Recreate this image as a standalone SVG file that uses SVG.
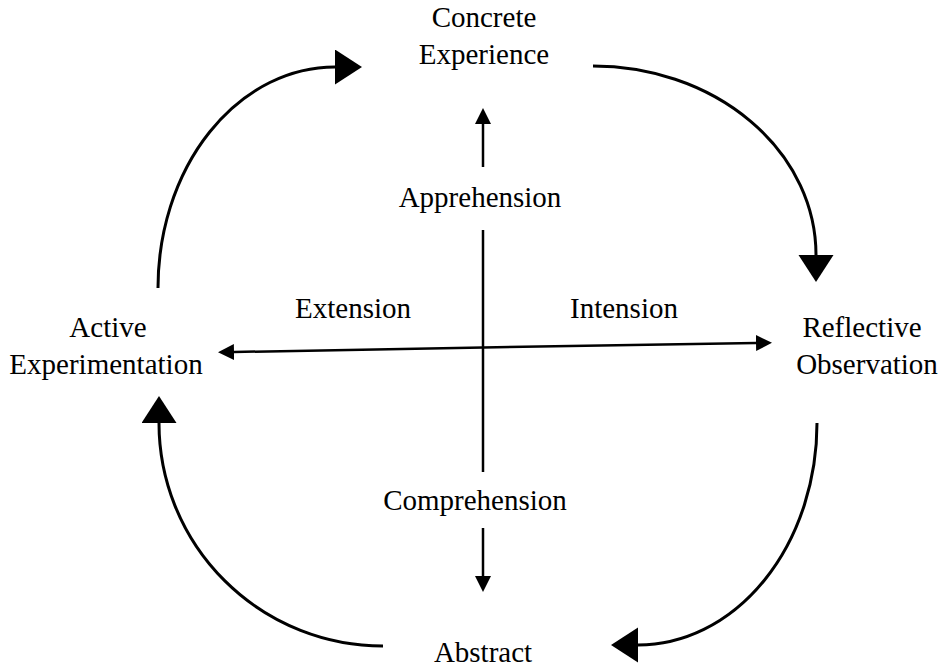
<svg xmlns="http://www.w3.org/2000/svg" width="941" height="670" viewBox="0 0 941 670">
<style>
text{font-family:"Liberation Serif","Times New Roman",serif;font-size:29px;fill:#000;text-anchor:middle}
.c{fill:none;stroke:#000;stroke-width:3}
.s{fill:none;stroke:#000;stroke-width:2.5}
</style>
<defs>
<marker id="big" markerUnits="userSpaceOnUse" markerWidth="30" markerHeight="38" refX="0" refY="17.5" orient="auto"><path d="M0,0 L27,17.5 L0,35 Z" fill="#000"/></marker>
<marker id="small" markerUnits="userSpaceOnUse" markerWidth="18" markerHeight="18" refX="0" refY="8" orient="auto"><path d="M0,0 L16,8 L0,16 Z" fill="#000"/></marker>
</defs>
<rect width="941" height="670" fill="#fff"/>
<g id="connectors">
<path class="c" d="M158,288 A177,221 0 0 1 335,67" marker-end="url(#big)"/>
<path class="c" d="M593,66 A223,189 0 0 1 816,255" marker-end="url(#big)"/>
<path class="c" d="M817,423 A179,222 0 0 1 638,645" marker-end="url(#big)"/>
<path class="c" d="M383,646 A224,223 0 0 1 159,423" marker-end="url(#big)"/>
<path class="s" d="M483,167 L483,124" marker-end="url(#small)"/>
<path class="s" d="M483,230 L483,472"/>
<path class="s" d="M483,528 L483,576" marker-end="url(#small)"/>
<path class="s" d="M483,347.5 L234,352" marker-end="url(#small)"/>
<path class="s" d="M483,347.5 L756,343" marker-end="url(#small)"/>
</g>
<g id="concrete"><text x="484" y="27">Concrete</text><text x="484" y="64">Experience</text></g>
<g id="reflective"><text x="862" y="337">Reflective</text><text x="867" y="374">Observation</text></g>
<g id="abstract"><text x="483" y="662">Abstract</text></g>
<g id="active"><text x="108" y="337">Active</text><text x="106" y="374">Experimentation</text></g>
<g id="apprehension"><text x="480" y="207">Apprehension</text></g>
<g id="comprehension"><text x="475" y="510">Comprehension</text></g>
<g id="extension"><text x="353" y="318">Extension</text></g>
<g id="intension"><text x="624" y="318">Intension</text></g>
</svg>
